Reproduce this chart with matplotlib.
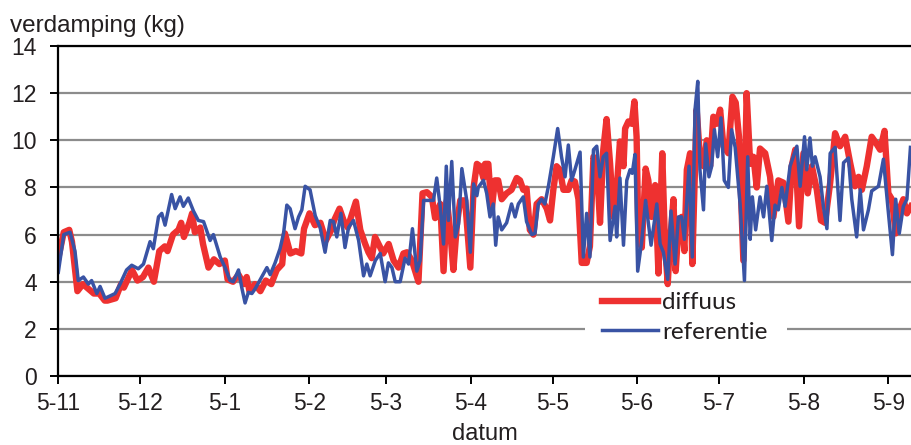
import numpy as np
import matplotlib.pyplot as plt
from matplotlib.patches import Rectangle

# dagen vanaf 5-11-2012, verdamping in kg
start = np.datetime64('2012-11-05')
maand_data = ['2012-11-05', '2012-12-05', '2013-01-05', '2013-02-05', '2013-03-05',
              '2013-04-05', '2013-05-05', '2013-06-05', '2013-07-05', '2013-08-05',
              '2013-09-05']
maand_labels = ['5-11', '5-12', '5-1', '5-2', '5-3', '5-4', '5-5', '5-6', '5-7', '5-8', '5-9']

dif_dag = [0, 2, 4, 5, 7, 9, 11, 13, 15, 17, 18, 21, 23, 24, 27, 29, 31, 33, 35, 37,
           39, 40, 42, 44, 45, 46, 48, 49, 50, 52, 53, 55, 57, 59, 61, 62, 64, 66, 68, 69,
           70, 72, 74, 76, 78, 80, 82, 83, 85, 87, 89, 90, 92, 94, 96, 98, 100, 101,
           103, 104.5, 106, 109, 110.6, 112.4, 113.6, 114.8, 116, 117.3, 119, 121, 122.8,
           124.6, 126.4, 127.7, 129.5, 131.9, 133.4, 135, 136.8, 138, 139.9, 141.1, 142.3,
           143.5, 144.7, 146, 147.2, 149, 150.9, 152.1, 153.3, 154.5,
           155.7, 156.3, 157.5, 158.7, 159.9, 161.1, 162.4, 164.2, 166, 167.9, 169.1,
           170.3, 171.5, 172.7, 174, 175.2, 177, 178.9, 180.1, 181.3, 182.5, 183.7, 185,
           186.8, 188, 189.2, 190.5, 191.7, 193.5, 194.7, 196, 197.2, 198.4, 199.6, 200.8,
           202.1, 203.3, 204.5, 205.7, 207, 207.6, 208.8, 210, 211, 211.8, 212.4, 213.7,
           215.1, 216.1, 217.3, 218.6, 219.8, 221.2, 222.2, 223.2, 224, 225.3, 226.1,
           227.3, 228.3, 229.3, 230.2, 231.4, 232.2, 233.8, 235, 236.3, 237.5, 238.7,
           239.9, 241.1, 242.4, 243.6, 245.4, 246.9, 248.1, 249.3, 250.9, 252.1, 253.4,
           254.6, 255.8, 257, 258.9, 260.7, 261.9, 263.7, 265.6, 267.4, 268.6, 269.9,
           271.3, 272.9, 274.5, 276, 277.8, 279.3, 280.8, 282.7, 284.5, 286.3, 288.2,
           290, 291.8, 293.1, 294.3, 296.1, 297.9, 299.4, 301, 302.6, 304, 305.3, 306.7,
           308, 309.5, 310.8, 312.3]
dif_kg = [5.0, 6.1, 6.2, 5.7, 3.6, 3.9, 3.7, 3.5, 3.5, 3.2, 3.2, 3.3, 3.9, 3.75, 4.5, 4.05,
          4.2, 4.6, 4.0, 5.3, 5.5, 5.3, 6.0, 6.2, 6.5, 5.9, 6.5, 6.9, 6.1, 6.3, 5.6, 4.6,
          4.95, 4.75, 4.9, 4.1, 4.0, 4.3, 3.9, 4.2, 3.6, 3.9, 3.6, 4.05, 3.9, 4.5, 4.75,
          6.05, 5.2, 5.3, 5.2, 6.25, 6.9, 6.4, 6.5, 5.75, 6.2, 6.6,
          7.1, 6.6, 6.3, 7.4, 6.2, 5.6, 5.25, 5.0, 5.9, 5.6, 5.2, 5.6, 4.9,
          4.6, 5.2, 5.25, 4.9, 4.0, 7.75, 7.8, 7.6, 6.7, 7.3, 4.45, 7.45,
          6.2, 4.5, 6.45, 7.45, 7.45, 4.6, 8.0, 9.0, 8.9,
          8.4, 9.0, 9.0, 7.0, 8.3, 8.3, 7.5, 7.75, 7.9, 8.4, 8.3,
          7.9, 7.95, 6.2, 6.0, 7.3, 7.5, 7.1, 6.6, 7.9, 8.9, 8.75, 7.9,
          7.9, 8.3, 8.25, 7.5, 4.8, 4.8, 5.5, 9.3, 9.0, 6.5, 9.6, 10.9,
          9.0, 6.75, 7.9, 9.95, 8.9, 10.5, 10.8, 10.7, 11.65, 10.15, 6.3, 5.45,
          8.8, 8.3, 6.75, 8.1, 4.35, 9.45, 5.6, 3.9, 5.6, 7.5, 4.45,
          6.6, 6.75, 5.3, 8.75, 9.45, 4.75, 11.3, 9.3, 8.9, 10.0, 8.9,
          11.0, 10.7, 11.3, 9.75, 9.45, 11.85, 11.6, 10.15, 4.9, 12.0, 9.0,
          9.3, 8.0, 9.65, 9.45, 8.45, 6.75, 8.3, 8.2, 6.55, 8.9, 9.6,
          6.35, 9.45, 7.75, 8.9, 7.9, 6.6, 6.5, 8.2, 10.3, 9.75, 10.15,
          9.05, 8.05, 8.45, 7.9, 8.9, 10.15, 9.9, 9.6, 10.4, 7.75, 7.5, 6.05,
          7.05, 7.5, 6.9, 7.2]

ref_dag = [0, 2, 4.3, 6.1, 7.3, 9.2, 11, 12.2, 14.1, 15.3, 17.1, 19, 20.8, 22.6, 25, 26.9,
           29.3, 31.2, 33.6, 34.8, 36.7, 37.9, 39.1, 40.3, 41.5, 42.8, 44.6, 45.8, 47.6,
           49.5, 51.3, 53.2, 55.6, 56.8, 59.3, 61.1, 62.9, 64.1, 66, 67.2, 68.4, 69.6,
           70.9, 72.1, 74.5, 76.4, 77.6, 79.4, 81.2, 82.5, 83.7, 84.9, 86.7, 88, 89.2,
           90.4, 92.2, 94.1, 95.9, 97.7, 99.6, 100.8,
           102, 103.5, 105, 106.3, 108.1, 110, 111.8, 113, 114.2, 116.1, 117.9, 119.7,
           120.9, 122.2, 123.4, 125.2, 127, 128.3, 129.7, 131.3, 132.5, 133.8, 135.6,
           137.4, 138.6, 139.9, 141.1, 142.1, 142.9, 144.1, 145.4, 146.6, 147.8, 149.6,
           150.9, 152.1, 153.3, 153.8, 155.7, 156.9, 158.1, 159.3, 160.2, 161.1, 162.4,
           164.2, 166, 167.3, 168.5, 170.3, 171.5, 173.4, 174.6, 175.8, 177, 178.2, 179.5,
           181.3, 182.9, 184.3, 185.6, 186.8, 188, 189.2, 191.1, 192.3, 193.5, 194.7, 196,
           197.2, 198.4, 199.6, 200.8, 202.1, 203.9, 204.5, 205.7, 207, 208.2, 209.4,
           210.2, 211.2, 212.2, 213.7, 215.1, 217.1, 219.2, 220.4, 221.6, 223.2, 224.4,
           225.9, 227.1, 228.3, 229.3, 231, 232.2, 233.2, 234.2, 235, 236.3, 237.1,
           238.3, 239.3, 240.3, 241.5, 242.7, 243.9, 245.4, 246.6, 247.9, 249.7, 251.3,
           252.5, 253.4, 254.2, 255.4, 257, 258.3, 259.5, 261.3, 262.5, 263.7, 265,
           266.2, 268, 270.5, 271.7, 273.3, 274.1, 275.3, 276.2, 277.2, 279, 280.2,
           281.5, 282.7, 284.5, 286.3, 287.6, 289.4, 290.6, 292.4, 293.7, 294.9, 296.7,
           297.9, 300.4, 302.2, 303.8, 305.5, 306.7, 308, 309.5, 310.8, 312.1]
ref_kg = [4.4, 6.0, 6.1, 5.3, 4.05, 4.2, 3.9, 4.05, 3.5, 3.8, 3.3, 3.4, 3.5, 3.9, 4.5, 4.7,
          4.55, 4.75, 5.7, 5.4, 6.75, 6.9, 6.4, 7.05, 7.7, 7.1, 7.6, 7.2, 7.55,
          7.0, 6.6, 6.55, 5.75, 6.0, 5.05, 4.6, 4.05, 4.0, 4.5, 3.75, 3.1, 3.55,
          3.5, 3.7, 4.2, 4.6, 4.3, 4.8, 5.4, 6.05, 7.25, 7.1, 6.25, 6.75, 7.05,
          8.05, 7.9, 6.8, 6.3, 5.25, 6.6, 6.55,
          5.9, 6.9, 5.45, 6.3, 6.6, 5.75, 4.25, 4.75, 4.25, 4.9, 5.2, 4.0,
          4.8, 4.6, 4.0, 4.0, 5.0, 4.75, 6.25, 4.45, 4.9, 7.45, 7.45,
          7.45, 8.4, 7.15, 5.6, 8.9, 6.6, 9.1, 5.9, 6.45, 8.8, 7.45,
          5.25, 8.15, 7.65, 8.0, 8.3, 7.75, 6.75, 7.3, 5.55, 6.75, 6.2,
          6.5, 7.3, 6.75, 7.3, 7.6, 6.55, 6.0, 6.05, 7.3, 7.5, 7.3, 8.05,
          9.3, 10.5, 9.3, 8.45, 9.8, 8.3, 8.75, 9.5, 5.05, 6.9, 5.05, 9.6,
          9.75, 8.45, 9.3, 9.45, 5.75, 7.2, 5.9, 8.4, 5.55, 8.3, 8.75,
          8.6, 9.4, 4.45, 5.75, 7.45, 5.55, 7.3, 5.6, 5.25, 4.1, 7.0,
          4.75, 6.75, 6.75, 5.8, 8.9, 5.05, 11.3, 12.5, 8.75, 7.05, 9.85,
          8.45, 8.9, 10.45, 9.3, 10.95, 8.3, 8.0, 10.45, 9.7, 7.3, 4.05,
          9.3, 5.8, 7.6, 6.2, 7.6, 6.75, 8.05, 5.75, 7.25, 7.05, 8.0,
          7.2, 8.9, 9.75, 8.05, 10.15, 8.75, 10.1, 8.9, 9.3, 8.45, 7.2,
          6.25, 9.45, 9.7, 6.6, 9.05, 9.25, 7.5, 5.9, 7.9, 6.2, 7.05,
          7.85, 8.05, 9.2, 7.2, 5.15, 7.5, 6.05, 7.2, 7.5, 9.7]

maand_pos = [(np.datetime64(d) - start).astype(int) for d in maand_data]

plt.rcParams['font.family'] = ['Liberation Sans', 'DejaVu Sans']

fig = plt.figure(figsize=(9.11, 4.45), dpi=100)
ax = fig.add_axes([0.064, 0.155, 0.936, 0.7416])

ax.plot(dif_dag, dif_kg, color='#ee3130', lw=4.6, solid_joinstyle='round', label='diffuus')
ax.plot(ref_dag, ref_kg, color='#3953a4', lw=2.5, solid_joinstyle='round', label='referentie')

ax.set_xlim(0, 312.3)
ax.set_ylim(0, 14)
ax.set_yticks(range(0, 15, 2))
ax.set_xticks(maand_pos)
ax.set_xticklabels(maand_labels)
ax.yaxis.grid(True, color='#8c8c8c', lw=1.6)
ax.set_axisbelow(True)

for s in ['left', 'bottom', 'top']:
    ax.spines[s].set_linewidth(1.6)
    ax.spines[s].set_color('black')
ax.spines['right'].set_visible(False)

ax.tick_params(axis='both', direction='out', length=5.5, width=1.4, color='black',
               labelsize=16.5, labelcolor='#231f20')
ax.tick_params(axis='y', pad=10)
ax.tick_params(axis='x', pad=6)

ax.set_xlabel('datum', fontsize=17, color='#231f20', labelpad=6)
fig.text(10 / 911, 1 - 32 / 445, 'verdamping (kg)', fontsize=17.5, color='#231f20',
         ha='left', va='baseline')

# witte achtergrond van de legenda over de rasterlijn
ax.add_patch(Rectangle((585 / 911, 1 - 337 / 445), 202 / 911, 15 / 445,
                       transform=fig.transFigure, facecolor='white', edgecolor='none',
                       zorder=1))

leg = ax.legend(loc='upper left', bbox_to_anchor=(602 / 911, 1 - 292 / 445),
                bbox_transform=fig.transFigure, frameon=False,
                prop={'family': 'Lato', 'size': 17.5}, handlelength=2.3,
                handletextpad=0.16, labelspacing=0.36, borderpad=0, borderaxespad=0)
for t in leg.get_texts():
    t.set_color('#231f20')

fig.savefig('out.png', dpi=100)
